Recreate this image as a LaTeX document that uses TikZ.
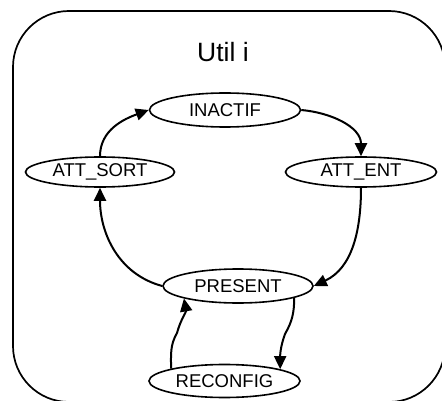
\documentclass[tikz,border=0pt]{standalone}
\usepackage{fontspec}
\setmainfont{Liberation Sans}
\usetikzlibrary{shapes.geometric,arrows.meta}
\begin{document}
\begin{tikzpicture}[x=1pt,y=-1pt,
  state/.style={draw,ellipse,line width=1.6pt,inner sep=0pt,minimum width=151pt,minimum height=33pt,font=\fontsize{18.5}{20}\selectfont},
  trans/.style={line width=2pt,-{Triangle[length=13pt,width=12pt]}}]
\useasboundingbox (0,0) rectangle (442,401);
\clip (0,0) rectangle (442,401);
\draw[line width=1.7pt,rounded corners=56pt] (13,11) rectangle (445,402);
\node[font=\fontsize{26.5}{28}\selectfont] (title) at (223,52) {Util i};
\node[state,minimum height=34pt] (inact) at (225,110) {INACTIF};
\node[state,minimum width=149pt,minimum height=30pt] (sort) at (100,172) {ATT\_SORT};
\node[state,minimum height=30pt] (ent) at (361,172) {ATT\_ENT};
\node[state,minimum width=150pt,minimum height=34pt] (pres) at (238,286) {PRESENT};
\node[state] (reconf) at (224.5,381) {RECONFIG};
\coordinate (w1) at (177,333);
\coordinate (w2) at (285,334);
\draw[trans] (sort.north) to[out=90,in=200] (inact.west);
\draw[trans] (inact.east) to[out=-5,in=90] (ent.north);
\draw[trans] (ent.south) to[out=-90,in=25] (pres.east);
\draw[trans] (pres.west) to[out=165,in=-90] (sort.south);
\draw[trans] (reconf.167) to[out=90,in=-120] (w1) to[out=75,in=-80] (pres.193);
\draw[trans] (pres.-12) to[out=-90,in=60] (w2) to[out=-110,in=90] (reconf.12);
\end{tikzpicture}
\end{document}
